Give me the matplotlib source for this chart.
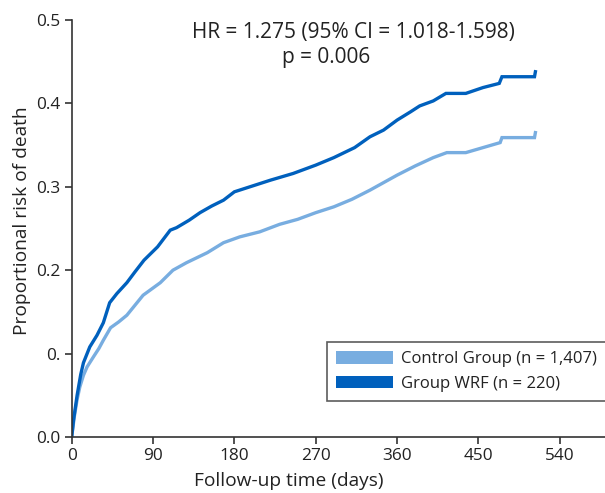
import matplotlib
matplotlib.use("Agg")
import matplotlib.pyplot as plt
from matplotlib.patches import Patch

plt.rcParams['font.family'] = ['Open Sans', 'DejaVu Sans']

# Data
wrf_days = [0, 2, 6, 10, 13, 20, 28, 35, 42, 50, 61, 70, 80, 95, 109, 116, 130, 142, 155, 168,
            180, 200, 220, 245, 270, 290, 313, 330, 345, 360, 375, 385, 400, 414, 436, 455, 473,
            476, 512, 513]
wrf_risk = [0.0, 0.02, 0.05, 0.075, 0.089, 0.108, 0.122, 0.137, 0.161, 0.172, 0.185, 0.198,
            0.212, 0.228, 0.248, 0.251, 0.260, 0.269, 0.277, 0.284, 0.294, 0.301, 0.308, 0.316,
            0.326, 0.335, 0.347, 0.360, 0.368, 0.380, 0.390, 0.397, 0.403, 0.412, 0.412, 0.419,
            0.424, 0.432, 0.432, 0.438]

ctrl_days = [0, 3, 6, 9, 13, 17, 24, 30, 35, 43, 52, 61, 70, 79, 98, 112, 127, 150, 168, 186,
             208, 230, 250, 270, 290, 310, 330, 345, 360, 380, 400, 415, 436, 455, 474, 476,
             512, 513]
ctrl_risk = [0.0, 0.025, 0.045, 0.06, 0.074, 0.084, 0.096, 0.106, 0.116, 0.131, 0.138, 0.146,
             0.158, 0.170, 0.185, 0.200, 0.209, 0.221, 0.233, 0.240, 0.246, 0.255, 0.261, 0.269,
             0.276, 0.285, 0.296, 0.305, 0.314, 0.325, 0.335, 0.341, 0.341, 0.347, 0.353, 0.359,
             0.359, 0.365]

x_ticks = [0, 90, 180, 270, 360, 450, 540]
y_ticks = [0.0, 0.1, 0.2, 0.3, 0.4, 0.5]
y_tick_labels = ['0.0', '0.', '0.2', '0.3', '0.4', '0.5']

ctrl_label = 'Control Group (n = 1,407)'
wrf_label = 'Group WRF (n = 220)'
light = '#78ade0'
dark = '#0060bd'

fig = plt.figure(figsize=(6.05, 4.93), dpi=100)
ax = fig.add_axes([0.1185, 0.1136, 0.8815, 0.8458])

ax.plot(ctrl_days, ctrl_risk, color=light, lw=2.4, solid_joinstyle='miter')
ax.plot(wrf_days, wrf_risk, color=dark, lw=2.4, solid_joinstyle='miter')

ax.set_xlim(0, 590)
ax.set_ylim(0, 0.5)
ax.set_xticks(x_ticks)
ax.set_yticks(y_ticks)
ax.set_yticklabels(y_tick_labels)
for s in ['top', 'right']:
    ax.spines[s].set_visible(False)
for s in ['left', 'bottom']:
    ax.spines[s].set_color('#333333')
    ax.spines[s].set_linewidth(1.2)
ax.tick_params(direction='out', length=5, width=1.2, color='#333333',
               labelsize=12.4, labelcolor='#222222', pad=3)
ax.set_xlabel('Follow-up time (days)', fontsize=13.8, color='#222222')
ax.xaxis.set_label_coords(0.407, -0.085)
ax.set_ylabel('Proportional risk of death', fontsize=13.8, color='#222222')
ax.yaxis.set_label_coords(-0.077, 0.518)

ax.text(312, 0.485, 'HR = 1.275 (95% CI = 1.018-1.598)', ha='center', va='center',
        fontsize=15, color='#222222')
ax.text(282, 0.455, 'p = 0.006', ha='center', va='center', fontsize=15, color='#222222')

handles = [Patch(facecolor=light, edgecolor='none'), Patch(facecolor=dark, edgecolor='none')]
leg = ax.legend(handles, [ctrl_label, wrf_label], loc='upper left',
                bbox_to_anchor=(0.479, 0.228), fontsize=12, frameon=True, fancybox=False,
                handlelength=3.4, handleheight=0.8, handletextpad=0.5, borderpad=0.55,
                labelspacing=0.5, labelcolor='#222222', borderaxespad=0)
leg.get_frame().set_edgecolor('#333333')
leg.get_frame().set_linewidth(1.2)

fig.savefig('out.png', dpi=100)
